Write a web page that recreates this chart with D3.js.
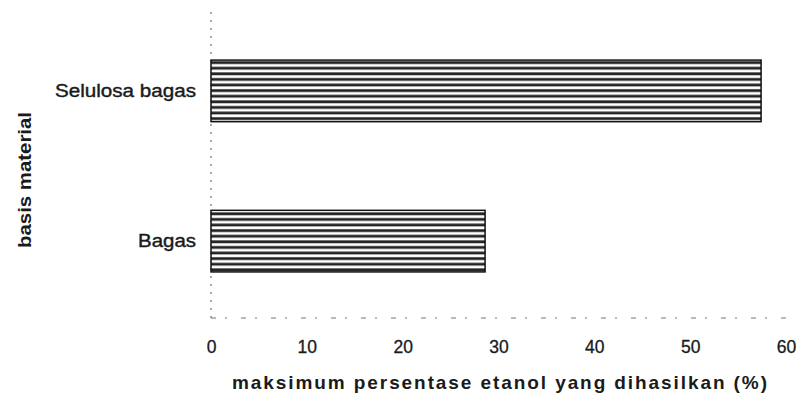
<!DOCTYPE html>
<html>
<head>
<meta charset="utf-8">
<script src="https://cdn.jsdelivr.net/npm/d3@7"></script>
<style>
  html, body { margin: 0; padding: 0; background: #fff; }
  svg { display: block; font-family: "Liberation Sans", Arial, sans-serif; }
</style>
</head>
<body>
<div id="chart"></div>
<script>
// --------------- Data ---------------
const categories = ["Selulosa bagas", "Bagas"];
const values = [57.4, 28.6];
const xTicks = [0, 10, 20, 30, 40, 50, 60];
const xLabel = "maksimum persentase etanol yang dihasilkan  (%)";
const yLabel = "basis material";

// --------------- Constants ---------------
const WIDTH = 802;
const HEIGHT = 401;
const X0 = 211;
const X1 = 786;
const AXIS_Y = 318;
const INK = "#1a1a1a";

const svg = d3
  .select("#chart")
  .append("svg")
  .attr("width", WIDTH)
  .attr("height", HEIGHT);

// striped fill like the scanned original
const defs = svg.append("defs");
const pattern = defs
  .append("pattern")
  .attr("id", "stripes")
  .attr("patternUnits", "userSpaceOnUse")
  .attr("width", 8)
  .attr("height", 5.6)
  .attr("y", 60);
pattern.append("rect").attr("width", 8).attr("height", 5.6).attr("fill", "#fff");
pattern
  .append("rect")
  .attr("y", 1.2)
  .attr("width", 8)
  .attr("height", 2.8)
  .attr("fill", "#222");

const x = d3.scaleLinear().domain([0, 60]).range([X0, X1]);
const y = d3
  .scaleBand()
  .domain(categories)
  .range([15, 317])
  .paddingInner(0.59)
  .paddingOuter(0.3);

// dotted axis lines
svg
  .append("line")
  .attr("x1", X0)
  .attr("x2", X0)
  .attr("y1", 12)
  .attr("y2", AXIS_Y)
  .attr("stroke", "#555")
  .attr("stroke-width", 1)
  .attr("stroke-dasharray", "2,6");

svg
  .append("line")
  .attr("x1", X0)
  .attr("x2", X1)
  .attr("y1", AXIS_Y)
  .attr("y2", AXIS_Y)
  .attr("stroke", "#777")
  .attr("stroke-width", 1)
  .attr("stroke-dasharray", "5,9,2,14");

// bars
svg
  .append("g")
  .selectAll("rect")
  .data(categories)
  .join("rect")
  .attr("x", x(0))
  .attr("y", (d) => y(d))
  .attr("width", (d, i) => x(values[i]) - x(0))
  .attr("height", y.bandwidth())
  .attr("fill", "url(#stripes)")
  .attr("stroke", "#111")
  .attr("stroke-width", 1.5);

// x axis labels
const xAxis = svg
  .append("g")
  .attr("transform", `translate(0,${341})`)
  .call(d3.axisBottom(x).tickValues(xTicks).tickSize(0).tickPadding(0));
xAxis.select(".domain").remove();
xAxis
  .selectAll("text")
  .attr("font-family", "Liberation Sans, Arial, sans-serif")
  .attr("font-size", 17.5)
  .attr("fill", INK)
  .attr("stroke", INK)
  .attr("stroke-width", 0.3);

// category labels
svg
  .append("g")
  .selectAll("text")
  .data(categories)
  .join("text")
  .attr("x", 196)
  .attr("y", (d) => y(d) + y.bandwidth() / 2 + 6)
  .attr("text-anchor", "end")
  .attr("font-size", 18)
  .attr("fill", INK)
  .attr("stroke", INK)
  .attr("stroke-width", 0.4)
  .attr("textLength", (d) => (d === "Bagas" ? 58 : 141))
  .attr("lengthAdjust", "spacingAndGlyphs")
  .text((d) => d);

// axis titles
svg
  .append("text")
  .attr("x", 232)
  .attr("y", 389)
  .attr("font-size", 19)
  .attr("font-weight", "bold")
  .attr("fill", INK)
  .attr("textLength", 535)
  .attr("lengthAdjust", "spacing")
  .text(xLabel);

svg
  .append("text")
  .attr("transform", "translate(31,180) rotate(-90)")
  .attr("text-anchor", "middle")
  .attr("font-size", 19)
  .attr("font-weight", "bold")
  .attr("fill", INK)
  .attr("textLength", 136)
  .attr("lengthAdjust", "spacingAndGlyphs")
  .text(yLabel);
</script>
</body>
</html>
